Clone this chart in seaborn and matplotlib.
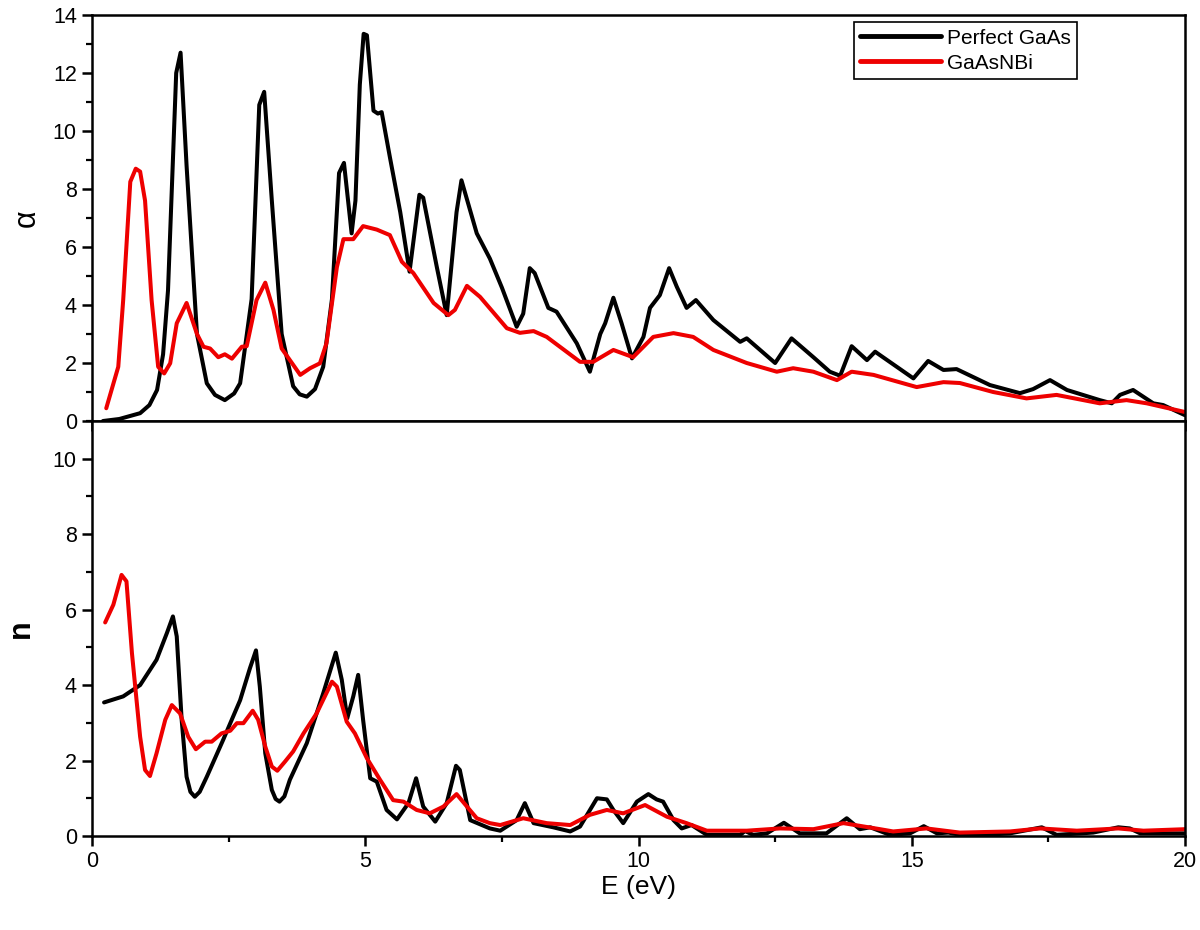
import matplotlib
matplotlib.use("Agg")
import matplotlib.pyplot as plt
import matplotlib.ticker as mticker
import pandas as pd
import seaborn as sns

# ── data ─────────────────────────────────────────────────────
alpha_gaas_E = [0.2, 0.5, 0.88, 1.05, 1.19, 1.3, 1.39, 1.54, 1.62, 1.73, 1.92, 2.1,
                2.25, 2.43, 2.6, 2.71, 2.92, 3.06, 3.15, 3.29, 3.47, 3.68, 3.8, 3.93,
                4.08, 4.23, 4.39, 4.52, 4.61, 4.75, 4.82, 4.90, 4.97, 5.03, 5.15, 5.23,
                5.3, 5.45, 5.64, 5.81, 5.99, 6.06, 6.31, 6.49, 6.67, 6.76, 7.04, 7.28,
                7.5, 7.77, 7.89, 8.01, 8.1, 8.35, 8.5, 8.87, 9.11, 9.3, 9.39, 9.54,
                9.69, 9.88, 10.09, 10.21, 10.39, 10.56, 10.7, 10.88, 11.05, 11.37,
                11.86, 11.98, 12.5, 12.8, 13.2, 13.5, 13.69, 13.9, 14.18, 14.33, 14.42,
                15.03, 15.3, 15.58, 15.82, 16.43, 16.98, 17.22, 17.53, 17.84, 18.44,
                18.66, 18.81, 19.05, 19.42, 19.6, 20.0]
alpha_gaas = [0.0, 0.07, 0.27, 0.55, 1.07, 2.3, 4.5, 12.0, 12.7, 8.8, 3.0, 1.3,
              0.9, 0.72, 0.95, 1.3, 4.2, 10.9, 11.35, 7.6, 3.0, 1.2, 0.92, 0.84,
              1.1, 1.87, 4.2, 8.55, 8.9, 6.47, 7.6, 11.6, 13.35, 13.3, 10.7, 10.6,
              10.65, 9.1, 7.2, 5.15, 7.8, 7.7, 5.3, 3.65, 7.2, 8.3, 6.47, 5.6,
              4.6, 3.25, 3.7, 5.27, 5.1, 3.9, 3.77, 2.68, 1.7, 3.0, 3.37, 4.25,
              3.37, 2.16, 2.9, 3.9, 4.34, 5.27, 4.63, 3.9, 4.17, 3.48,
              2.73, 2.85, 2.0, 2.85, 2.2, 1.7, 1.56, 2.58, 2.1, 2.39, 2.27,
              1.47, 2.07, 1.76, 1.79, 1.24, 0.96, 1.1, 1.41, 1.07, 0.72,
              0.61, 0.9, 1.07, 0.61, 0.55, 0.2]

alpha_bi_E = [0.26, 0.48, 0.57, 0.70, 0.8, 0.88, 0.97, 1.09, 1.21, 1.32, 1.43, 1.55,
              1.73, 1.92, 2.04, 2.16, 2.31, 2.43, 2.56, 2.74, 2.83, 3.01, 3.17, 3.32,
              3.47, 3.62, 3.81, 3.99, 4.17, 4.29, 4.48, 4.6, 4.78, 4.96, 5.21, 5.45,
              5.67, 5.88, 6.25, 6.52, 6.64, 6.86, 7.1, 7.59, 7.83, 8.08, 8.32, 8.93,
              9.17, 9.54, 9.9, 10.27, 10.64, 11.0, 11.37, 11.98, 12.53, 12.83, 13.2,
              13.63, 13.9, 14.3, 15.09, 15.58, 15.88, 16.49, 17.1, 17.65, 18.44,
              18.93, 19.3, 20.0]
alpha_bi = [0.44, 1.87, 4.17, 8.25, 8.7, 8.6, 7.6, 4.17, 1.87, 1.64, 1.99, 3.37,
            4.07, 3.0, 2.56, 2.5, 2.2, 2.3, 2.15, 2.56, 2.58, 4.17, 4.77, 3.83,
            2.5, 2.1, 1.59, 1.82, 1.99, 2.68, 5.3, 6.27, 6.27, 6.72, 6.6, 6.41,
            5.49, 5.1, 4.07, 3.65, 3.83, 4.66, 4.28, 3.2, 3.04, 3.1, 2.9, 2.04,
            2.04, 2.45, 2.2, 2.9, 3.03, 2.9, 2.45, 2.0, 1.7, 1.82, 1.7,
            1.41, 1.7, 1.59, 1.17, 1.34, 1.31, 1.0, 0.78, 0.9, 0.61,
            0.72, 0.61, 0.31]

n_gaas_E = [0.22, 0.57, 0.88, 1.18, 1.37, 1.48, 1.55, 1.64, 1.73, 1.8, 1.88, 1.97,
            2.1, 2.40, 2.71, 2.89, 3.0, 3.07, 3.17, 3.29, 3.36, 3.43, 3.52, 3.62,
            3.93, 4.23, 4.46, 4.57, 4.67, 4.78, 4.87, 4.96, 5.09, 5.21, 5.39, 5.58,
            5.79, 5.93, 6.06, 6.28, 6.49, 6.66, 6.73, 6.92, 7.28, 7.47, 7.77, 7.92,
            8.08, 8.44, 8.75, 8.93, 9.24, 9.42, 9.54, 9.72, 9.97, 10.18, 10.33,
            10.45, 10.64, 10.79, 10.97, 11.25, 11.86, 11.95, 12.1, 12.35, 12.66,
            12.95, 13.44, 13.81, 14.05, 14.24, 14.6, 14.97, 15.22, 15.46, 15.67,
            16.0, 16.8, 17.38, 17.65, 18.32, 18.78, 18.99, 19.18, 20.0]
n_gaas = [3.54, 3.7, 4.0, 4.67, 5.38, 5.82, 5.29, 3.08, 1.57, 1.17, 1.04, 1.17,
          1.57, 2.55, 3.6, 4.45, 4.92, 3.96, 2.19, 1.22, 0.98, 0.91, 1.05, 1.49,
          2.46, 3.78, 4.86, 4.14, 3.12, 3.7, 4.27, 3.08, 1.53, 1.44, 0.69, 0.44,
          0.87, 1.53, 0.78, 0.38, 0.87, 1.86, 1.75, 0.42, 0.2, 0.14, 0.42, 0.87,
          0.34, 0.23, 0.12, 0.25, 1.0, 0.97, 0.69, 0.34, 0.91, 1.11, 0.97,
          0.91, 0.42, 0.2, 0.29, 0.03, 0.03, 0.13, 0.03, 0.07, 0.35,
          0.07, 0.07, 0.47, 0.18, 0.23, 0.03, 0.07, 0.26, 0.07, 0.09,
          0.0, 0.07, 0.23, 0.03, 0.09, 0.23, 0.2, 0.07, 0.07]

n_bi_E = [0.24, 0.39, 0.54, 0.63, 0.73, 0.88, 0.97, 1.06, 1.18, 1.34, 1.46, 1.61,
          1.76, 1.9, 2.07, 2.19, 2.37, 2.53, 2.65, 2.77, 2.94, 3.04, 3.17, 3.29,
          3.39, 3.53, 3.68, 3.87, 4.11, 4.39, 4.48, 4.66, 4.81, 5.03, 5.27, 5.51,
          5.7, 5.94, 6.18, 6.43, 6.67, 6.86, 7.04, 7.28, 7.47, 7.89, 8.32, 8.75,
          9.11, 9.42, 9.72, 10.12, 10.52, 10.88, 11.25, 11.98, 12.59, 13.2, 13.75,
          14.42, 14.66, 15.27, 15.88, 16.8, 17.35, 18.02, 18.78, 19.24, 20.0]
n_bi = [5.66, 6.13, 6.92, 6.75, 4.85, 2.63, 1.75, 1.59, 2.19, 3.08, 3.47, 3.25,
        2.63, 2.3, 2.5, 2.5, 2.72, 2.79, 2.99, 2.99, 3.32, 3.08, 2.37, 1.84,
        1.73, 1.97, 2.24, 2.72, 3.25, 4.09, 3.96, 3.03, 2.72, 2.06, 1.49, 0.95,
        0.91, 0.69, 0.6, 0.78, 1.11, 0.78, 0.47, 0.34, 0.29, 0.47, 0.34, 0.29,
        0.56, 0.69, 0.6, 0.82, 0.51, 0.34, 0.14, 0.14, 0.2, 0.18, 0.34,
        0.18, 0.12, 0.2, 0.09, 0.12, 0.2, 0.14, 0.2, 0.14, 0.18]

labels = ["Perfect GaAs", "GaAsNBi"]
colors = ["black", "#ee0000"]

# ── style ────────────────────────────────────────────────────
sns.set_style("ticks")
plt.rcParams["font.family"] = ["Liberation Sans", "DejaVu Sans"]
plt.rcParams.update({
    "axes.linewidth": 1.8,
    "axes.edgecolor": "black",
    "axes.labelcolor": "black",
    "text.color": "black",
    "xtick.color": "black",
    "ytick.color": "black",
})

fig = plt.figure(figsize=(12, 9.3), dpi=100)
ax1 = fig.add_axes([0.0767, 0.5473, 0.9108, 0.4366])
ax2 = fig.add_axes([0.0767, 0.1011, 0.9108, 0.4462], sharex=ax1)

for ax, series in [
    (ax1, [(alpha_gaas_E, alpha_gaas), (alpha_bi_E, alpha_bi)]),
    (ax2, [(n_gaas_E, n_gaas), (n_bi_E, n_bi)]),
]:
    for (xs, ys), lab, col in zip(series, labels, colors):
        df = pd.DataFrame({"E": xs, "v": ys})
        sns.lineplot(data=df, x="E", y="v", ax=ax, color=col, lw=2.9,
                     estimator=None, label=lab if ax is ax1 else None)

# ── axes ─────────────────────────────────────────────────────
ax1.set_xlim(0, 20)
ax1.set_ylim(0, 14)
ax2.set_ylim(0, 11)

for ax in (ax1, ax2):
    ax.xaxis.set_major_locator(mticker.MultipleLocator(5))
    ax.xaxis.set_minor_locator(mticker.MultipleLocator(2.5))
    ax.yaxis.set_major_locator(mticker.MultipleLocator(2))
    ax.yaxis.set_minor_locator(mticker.MultipleLocator(1))
    ax.tick_params(which="major", length=7, width=1.8, labelsize=15.5,
                   direction="out", pad=4)
    ax.tick_params(which="minor", length=4, width=1.6, direction="out")
    for s in ax.spines.values():
        s.set_visible(True)
        s.set_linewidth(1.8)

ax2.set_yticks([0, 2, 4, 6, 8, 10])
ax1.tick_params(axis="x", labelbottom=False)

ax1.set_xlabel("")
ax1.set_ylabel("α", fontsize=22, labelpad=8)
ax2.set_ylabel("n", fontsize=22, fontweight="bold", labelpad=12)
ax2.set_xlabel("E (eV)", fontsize=19, labelpad=2)

leg = ax1.legend(loc="upper right", bbox_to_anchor=(0.901, 0.982),
                 fontsize=15, frameon=True, fancybox=False, edgecolor="black",
                 handlelength=3.9, handletextpad=0.25, borderpad=0.3,
                 labelspacing=0.3, borderaxespad=0, framealpha=1)
leg.get_frame().set_linewidth(1.2)
for line in leg.get_lines():
    line.set_linewidth(3.5)

fig.savefig("out.png", dpi=100)
